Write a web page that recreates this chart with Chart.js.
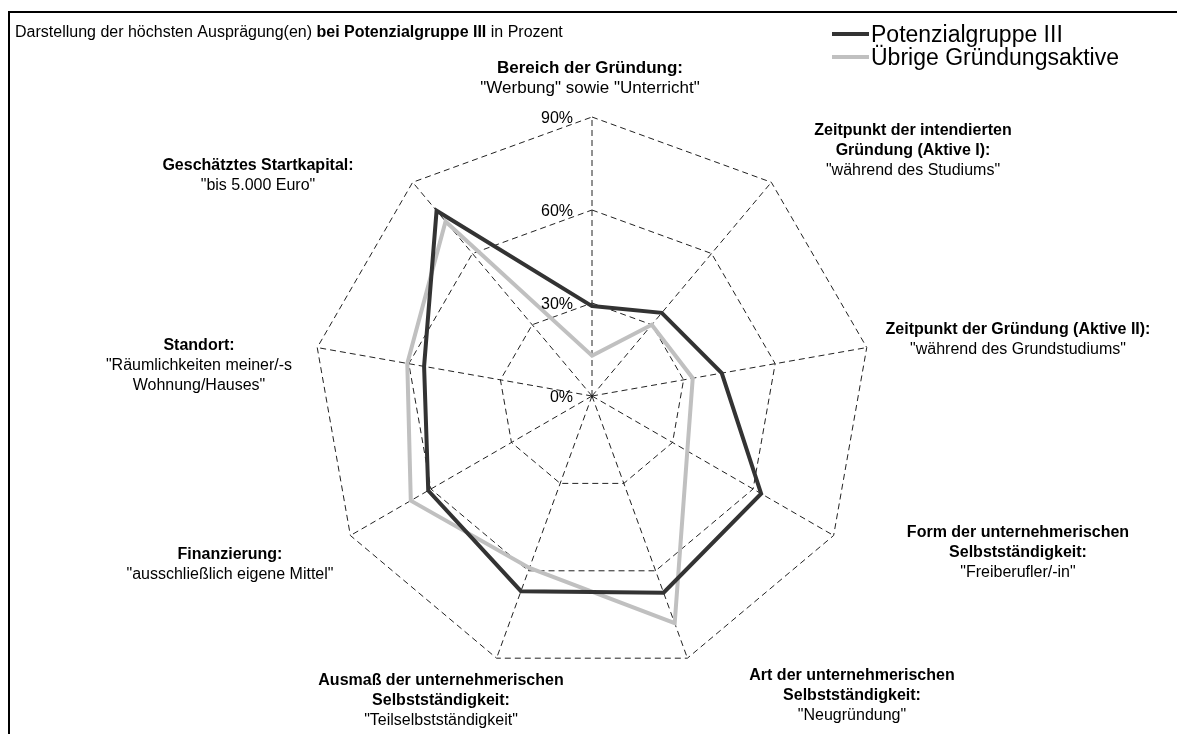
<!DOCTYPE html>
<html>
<head>
<meta charset="utf-8">
<script src="https://cdn.jsdelivr.net/npm/chart.js@4/dist/chart.umd.min.js"></script>
<style>
  body { margin: 0; background: #fff; }
  #chart { display: block; }
</style>
</head>
<body>
<canvas id="chart" width="1177" height="734"></canvas>
<script>
// axis names (clockwise, starting at the top)
const categories = [
    'Bereich der Gründung',
    'Zeitpunkt der intendierten Gründung (Aktive I)',
    'Zeitpunkt der Gründung (Aktive II)',
    'Form der unternehmerischen Selbstständigkeit',
    'Art der unternehmerischen Selbstständigkeit',
    'Ausmaß der unternehmerischen Selbstständigkeit',
    'Finanzierung',
    'Standort',
    'Geschätztes Startkapital'
];

// bold label lines and the answer line(s) under them
const labelTitles = [
    ['Bereich der Gründung:'],
    ['Zeitpunkt der intendierten', 'Gründung (Aktive I):'],
    ['Zeitpunkt der Gründung (Aktive II):'],
    ['Form der unternehmerischen', 'Selbstständigkeit:'],
    ['Art der unternehmerischen', 'Selbstständigkeit:'],
    ['Ausmaß der unternehmerischen', 'Selbstständigkeit:'],
    ['Finanzierung:'],
    ['Standort:'],
    ['Geschätztes Startkapital:']
];
const labelAnswers = [
    ['"Werbung" sowie "Unterricht"'],
    ['"während des Studiums"'],
    ['"während des Grundstudiums"'],
    ['"Freiberufler/-in"'],
    ['"Neugründung"'],
    ['"Teilselbstständigkeit"'],
    ['"ausschließlich eigene Mittel"'],
    ['"Räumlichkeiten meiner/-s', 'Wohnung/Hauses"'],
    ['"bis 5.000 Euro"']
];

// percent values
const potenzialgruppe3 = [29, 35, 42.5, 63, 67.5, 67, 61, 55, 78];
const uebrigeAktive = [13, 30, 33, 35.5, 78, 59, 67.5, 60.5, 73.5];

const seriesNames = ['Potenzialgruppe III', 'Übrige Gründungsaktive'];
const tickValues = [0, 30, 60, 90];

// where each label block sits (center x, middle of first line, font size)
const labelPlaces = [
    [590, 67, 17], [913, 129, 16], [1018, 328, 16], [1018, 531, 16], [852, 674, 16],
    [441, 679, 16], [230, 553, 16], [199, 344, 16], [258, 164, 16]
];

const FONT = '"Liberation Sans", Arial, sans-serif';
const DARK = '#333333';
const LIGHT = '#c0c0c0';

let textPlugin = {
    id: 'textPlugin',
    beforeDraw: chart => {
        let ctx = chart.ctx;
        ctx.save();
        ctx.fillStyle = '#fff';
        ctx.fillRect(0, 0, chart.width, chart.height);
        ctx.restore();
    },
    afterDraw: chart => {
        let ctx = chart.ctx;
        let scale = chart.scales.r;
        ctx.save();

        // frame (top and left edge only)
        ctx.strokeStyle = '#000';
        ctx.lineWidth = 2;
        ctx.beginPath();
        ctx.moveTo(9, chart.height);
        ctx.lineTo(9, 12);
        ctx.lineTo(chart.width, 12);
        ctx.stroke();

        // title with bold middle part
        let parts = [
            ['Darstellung der höchsten Ausprägung(en) ', ''],
            ['bei Potenzialgruppe III', 'bold '],
            [' in Prozent', '']
        ];
        let x = 15;
        ctx.fillStyle = '#000';
        ctx.textAlign = 'left';
        ctx.textBaseline = 'alphabetic';
        parts.forEach(p => {
            ctx.font = p[1] + '16px ' + FONT;
            ctx.fillText(p[0], x, 37);
            x += ctx.measureText(p[0]).width;
        });

        // tick labels left of the top axis
        ctx.textAlign = 'right';
        ctx.font = '16px ' + FONT;
        scale.ticks.forEach(t => {
            let y = scale.yCenter - scale.getDistanceFromCenterForValue(t.value);
            ctx.fillText(t.value + '%', scale.xCenter - 19, y + 6);
        });

        // axis labels
        ctx.textAlign = 'center';
        for (let i = 0; i < categories.length; i++) {
            let [cx, cy, size] = labelPlaces[i];
            let line = 0;
            ctx.font = 'bold ' + size + 'px ' + FONT;
            labelTitles[i].forEach(s => {
                ctx.fillText(s, cx, cy + 6 + line * 20);
                line++;
            });
            ctx.font = size + 'px ' + FONT;
            labelAnswers[i].forEach(s => {
                ctx.fillText(s, cx, cy + 6 + line * 20);
                line++;
            });
        }

        // legend, stacked at the top right
        ctx.textAlign = 'left';
        ctx.font = '23px ' + FONT;
        chart.data.datasets.forEach((ds, i) => {
            let y = 34 + i * 23;
            ctx.strokeStyle = ds.borderColor;
            ctx.lineWidth = 4;
            ctx.beginPath();
            ctx.moveTo(832, y);
            ctx.lineTo(869, y);
            ctx.stroke();
            ctx.fillStyle = '#000';
            ctx.fillText(ds.label, 871, y + 8);
        });

        ctx.restore();
    }
};

const data = {
    labels: categories,
    datasets: [{
        label: seriesNames[0],
        data: potenzialgruppe3,
        borderColor: DARK,
        borderWidth: 4,
        pointRadius: 0,
        fill: false,
        order: 0
    }, {
        label: seriesNames[1],
        data: uebrigeAktive,
        borderColor: LIGHT,
        borderWidth: 4,
        pointRadius: 0,
        fill: false,
        order: 1
    }]
};

new Chart(document.getElementById('chart'), {
    type: 'radar',
    data: data,
    options: {
        responsive: false,
        animation: false,
        devicePixelRatio: 1,
        layout: {
            padding: { left: 313, right: 306, top: 117, bottom: 59 }
        },
        plugins: {
            legend: { display: false },
            tooltip: { enabled: false }
        },
        scales: {
            r: {
                min: 0,
                max: 90,
                afterBuildTicks: axis => {
                    axis.ticks = tickValues.map(v => ({ value: v }));
                },
                ticks: { display: false },
                pointLabels: { display: false },
                grid: { color: '#222', lineWidth: 1 },
                border: { dash: [6, 4] },
                angleLines: { color: '#222', lineWidth: 1, borderDash: [6, 4] }
            }
        }
    },
    plugins: [textPlugin]
});
</script>
</body>
</html>
